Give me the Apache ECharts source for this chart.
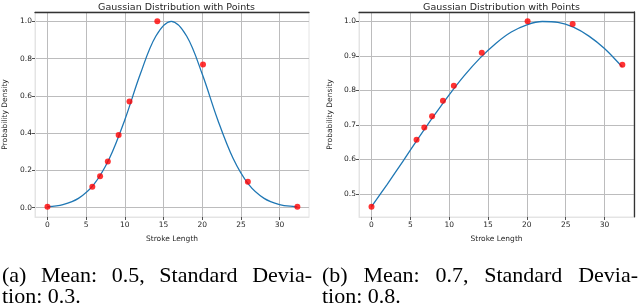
<!DOCTYPE html>
<html><head><meta charset="utf-8">
<script src="https://cdn.jsdelivr.net/npm/echarts@6/dist/echarts.min.js"></script>
<style>html,body{margin:0;padding:0;background:#fff}#c{width:640px;height:306px}</style>
</head><body><div id="c"></div>
<script>
// ---- data ----
const strokeLengths = [0, 5.8, 6.8, 7.8, 9.2, 10.6, 14.2, 20.1, 25.9, 32.3];
const pointsA = [0.005, 0.112, 0.169, 0.248, 0.39, 0.57, 1.0, 0.768, 0.139, 0.005];
const pointsB = [0.463, 0.657, 0.692, 0.725, 0.770, 0.813, 0.909, 1.0, 0.992, 0.874];
const curveX = [0, 2, 4, 6, 8, 10, 12, 14, 16, 18, 20, 22, 24, 26, 28, 30, 32, 32.3];
const curveA = [0.005, 0.017, 0.050, 0.125, 0.264, 0.472, 0.717, 0.920, 1.0, 0.920, 0.717, 0.472, 0.264, 0.125, 0.050, 0.017, 0.005, 0.004];
const curveB = [0.463, 0.527, 0.593, 0.660, 0.725, 0.787, 0.844, 0.894, 0.936, 0.969, 0.990, 0.9995, 0.997, 0.983, 0.957, 0.921, 0.875, 0.868];
const xTicks = [0, 5, 10, 15, 20, 25, 30];
const yTicksA = [0.0, 0.2, 0.4, 0.6, 0.8, 1.0];
const yTicksB = [0.5, 0.6, 0.7, 0.8, 0.9, 1.0];
const titleText = 'Gaussian Distribution with Points';
const xName = 'Stroke Length';
const yName = 'Probability Density';
const captionA = ['(a) Mean: 0.5, Standard Devia-', 'tion: 0.3.'];
const captionB = ['(b) Mean: 0.7, Standard Devia-', 'tion: 0.8.'];

const FONT = 'DejaVu Sans';
const TXT = '#262626';
const GRIDC = '#bcbcbd';
const SPINE_LIGHT = '#e4e4e4';
const SPINE_DARK = '#333333';

const grids = [
  {left: 34, top: 12, width: 275, height: 205, show: true, borderColor: SPINE_LIGHT, borderWidth: 1},
  {left: 359, top: 12, width: 275, height: 205, show: true, borderColor: SPINE_LIGHT, borderWidth: 1}
];

function xMain(g) {
  return {
    type: 'value', gridIndex: g, min: -1.61, max: 33.8, position: 'bottom',
    axisLine: {show: true, onZero: false, lineStyle: {color: SPINE_LIGHT, width: 1}},
    axisTick: {show: true, length: 3, customValues: xTicks, lineStyle: {color: TXT, width: 0.8}},
    axisLabel: {customValues: xTicks, fontSize: 7.5, color: TXT, margin: 4, fontFamily: FONT},
    splitLine: {show: true, lineStyle: {color: GRIDC, width: 1}},
    name: xName, nameLocation: 'middle', nameGap: 18,
    nameTextStyle: {fontSize: 7.5, color: TXT, fontFamily: FONT}
  };
}
function xTop(g) {
  return {
    type: 'value', gridIndex: g, min: -1.61, max: 33.8, position: 'top',
    axisLine: {show: true, onZero: false, lineStyle: {color: SPINE_DARK, width: 1.3}},
    axisTick: {show: false}, axisLabel: {show: false}, splitLine: {show: false}
  };
}
function yMain(g, min, max, ticks, gap) {
  return {
    type: 'value', gridIndex: g, min: min, max: max, position: 'left',
    axisLine: {show: true, onZero: false, lineStyle: {color: SPINE_LIGHT, width: 1}},
    axisTick: {show: true, length: 3, customValues: ticks, lineStyle: {color: TXT, width: 0.8}},
    axisLabel: {customValues: ticks, fontSize: 7.5, color: TXT, margin: 3, fontFamily: FONT,
      formatter: v => v.toFixed(1)},
    splitLine: {show: true, lineStyle: {color: GRIDC, width: 1}},
    name: yName, nameLocation: 'middle', nameGap: gap, nameRotate: 90,
    nameTextStyle: {fontSize: 7.5, color: TXT, fontFamily: FONT}
  };
}
function yRight(g, min, max) {
  return {
    type: 'value', gridIndex: g, min: min, max: max, position: 'right',
    axisLine: {show: true, onZero: false, lineStyle: {color: SPINE_DARK, width: 1.3}},
    axisTick: {show: false}, axisLabel: {show: false}, splitLine: {show: false}
  };
}

const zip = (xs, ys) => xs.map((x, i) => [x, ys[i]]);

// caption words laid out justified
const measureCtx = document.createElement('canvas').getContext('2d');
const CAP_FONT_SIZE = 22;
const CAP_FONT = CAP_FONT_SIZE + 'px "Liberation Serif"';
measureCtx.font = CAP_FONT;
function captionEls(lines, x0, x1, y0, lh) {
  const els = [];
  lines.forEach((line, li) => {
    const words = line.split(' ');
    const y = y0 + li * lh;
    if (li === lines.length - 1) {
      els.push({type: 'text', left: x0, top: y, style: {text: line, font: CAP_FONT, fill: '#000'}});
      return;
    }
    const widths = words.map(w => measureCtx.measureText(w).width);
    const total = widths.reduce((a, b) => a + b, 0);
    const gap = (x1 - x0 - total) / (words.length - 1);
    let x = x0;
    words.forEach((w, i) => {
      els.push({type: 'text', left: x, top: y, style: {text: w, font: CAP_FONT, fill: '#000'}});
      x += widths[i] + gap;
    });
  });
  return els;
}

const chart = echarts.init(document.getElementById('c'));
chart.setOption({
  animation: false,
  backgroundColor: '#fff',
  title: [
    {text: titleText, left: 171.5, top: -2, textAlign: 'center', textStyle: {fontSize: 9.5, fontWeight: 'normal', color: TXT, fontFamily: FONT}},
    {text: titleText, left: 496.5, top: -2, textAlign: 'center', textStyle: {fontSize: 9.5, fontWeight: 'normal', color: TXT, fontFamily: FONT}}
  ],
  grid: grids,
  xAxis: [xMain(0), xTop(0), xMain(1), xTop(1)],
  yAxis: [yMain(0, -0.05, 1.05, yTicksA, 26), yMain(1, 0.433, 1.027, yTicksB, 25), yRight(1, 0.433, 1.027)],
  series: [
    {type: 'line', xAxisIndex: 0, yAxisIndex: 0, data: zip(curveX, curveA), smooth: 0.35, showSymbol: false,
      lineStyle: {color: '#1f77b4', width: 1.3}, z: 2},
    {type: 'scatter', xAxisIndex: 0, yAxisIndex: 0, data: zip(strokeLengths, pointsA), symbolSize: 6,
      itemStyle: {color: '#ff0000'}, z: 3},
    {type: 'line', xAxisIndex: 2, yAxisIndex: 1, data: zip(curveX, curveB), smooth: 0.35, showSymbol: false,
      lineStyle: {color: '#1f77b4', width: 1.3}, z: 2},
    {type: 'scatter', xAxisIndex: 2, yAxisIndex: 1, data: zip(strokeLengths, pointsB), symbolSize: 6,
      itemStyle: {color: '#ff0000'}, z: 3}
  ],
  graphic: [
    ...captionEls(captionA, 2, 312, 265, 21),
    ...captionEls(captionB, 322, 638, 265, 21)
  ]
});
</script></body></html>
